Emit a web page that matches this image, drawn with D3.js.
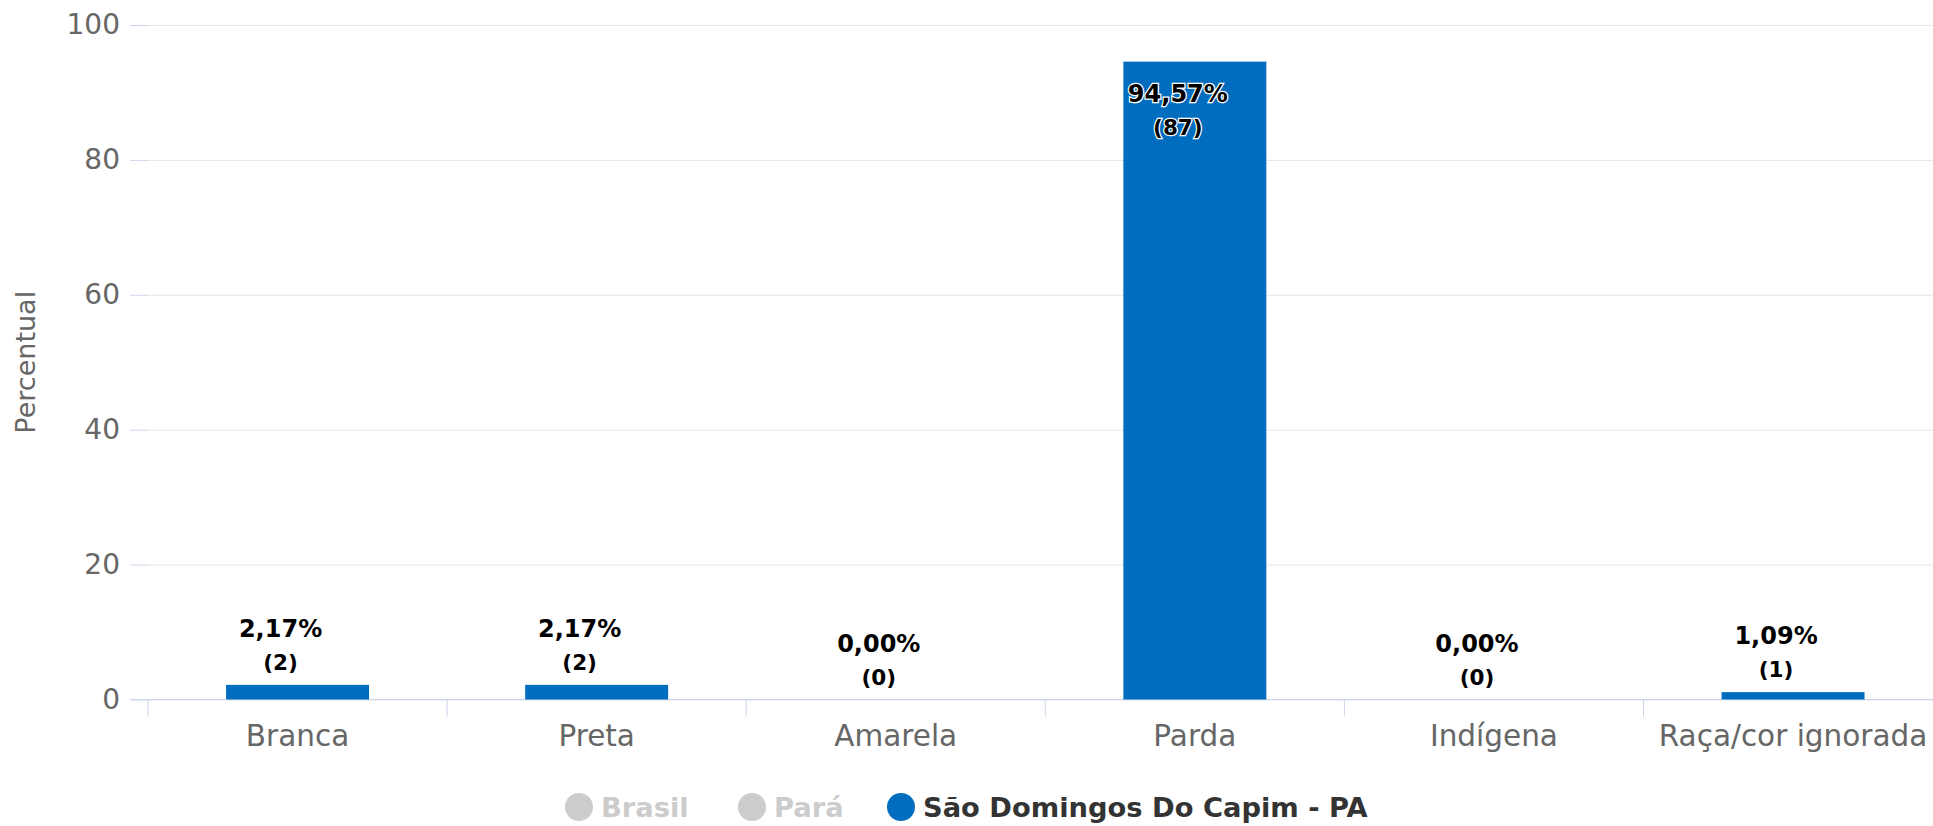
<!DOCTYPE html>
<html>
<head>
<meta charset="utf-8">
<script src="https://cdn.jsdelivr.net/npm/d3@7/dist/d3.min.js"></script>
<style>
  body { margin: 0; background: #fff; }
  svg { display: block; }
</style>
</head>
<body>
<div id="chart"></div>
<script>
  // data
  var categories = ['Branca', 'Preta', 'Amarela', 'Parda', 'Indígena', 'Raça/cor ignorada'];
  var percents = [2.17, 2.17, 0.00, 94.57, 0.00, 1.09];
  var counts = [2, 2, 0, 87, 0, 1];
  var yTicks = [0, 20, 40, 60, 80, 100];
  var legendItems = ['Brasil', 'Pará', 'São Domingos Do Capim - PA'];
  var legendActive = [false, false, true];

  (function () {
    'use strict';

    var width = 1933, height = 826;
    var plotLeft = 148, plotRight = 1942.6, plotTop = 25, plotBottom = 699.5;
    var blue = '#006dbf';

    var svg = d3.select('#chart')
      .append('svg')
      .attr('width', width)
      .attr('height', height);

    var x = d3.scaleBand()
      .domain(categories)
      .range([plotLeft, plotRight])
      .padding(0);

    var y = d3.scaleLinear()
      .domain([0, 100])
      .range([plotBottom, plotTop]);

    // grid lines
    var grid = svg.append('g')
      .attr('transform', 'translate(' + plotLeft + ',0)')
      .call(d3.axisRight(y).tickValues(yTicks).tickSize(width - plotLeft).tickFormat(''));
    grid.select('.domain').remove();
    grid.selectAll('line').attr('stroke', '#e6e6e6');

    // y axis
    var yAxis = svg.append('g')
      .attr('transform', 'translate(' + plotLeft + ',0)')
      .call(d3.axisLeft(y).tickValues(yTicks).tickSize(18).tickPadding(10));
    yAxis.select('.domain').remove();
    yAxis.selectAll('line').attr('stroke', '#ccd6eb');
    yAxis.selectAll('text')
      .attr('fill', '#666')
      .style('font-family', 'DejaVu Sans')
      .style('font-size', '28px');

    svg.append('text')
      .attr('transform', 'translate(35,' + ((plotTop + plotBottom) / 2) + ') rotate(-90)')
      .attr('text-anchor', 'middle')
      .attr('fill', '#666')
      .style('font-family', 'DejaVu Sans')
      .style('font-size', '27px')
      .text('Percentual');

    // x axis
    var xAxis = svg.append('g')
      .attr('transform', 'translate(0,' + plotBottom + ')')
      .call(d3.axisBottom(x).tickSize(0).tickPadding(26));
    xAxis.select('.domain').remove();
    xAxis.selectAll('text')
      .attr('fill', '#666')
      .style('font-family', 'DejaVu Sans')
      .style('font-size', '29.5px');

    svg.append('line')
      .attr('x1', 130).attr('x2', width)
      .attr('y1', plotBottom).attr('y2', plotBottom)
      .attr('stroke', '#ccd6eb');

    svg.append('g').selectAll('line')
      .data(categories)
      .enter().append('line')
      .attr('x1', function (d) { return x(d); })
      .attr('x2', function (d) { return x(d); })
      .attr('y1', plotBottom)
      .attr('y2', plotBottom + 17)
      .attr('stroke', '#ccd6eb');

    // bars
    var barW = x.bandwidth() * 0.478;
    svg.append('g').selectAll('rect')
      .data(percents)
      .enter().append('rect')
      .attr('x', function (d, i) { return x(categories[i]) + x.bandwidth() / 2 - barW / 2; })
      .attr('y', function (d) { return y(d); })
      .attr('width', barW)
      .attr('height', function (d) { return plotBottom - y(d); })
      .attr('fill', blue);

    // data labels (pushed inside the plot when they would overflow the top)
    var labels = svg.append('g').selectAll('g')
      .data(percents)
      .enter().append('g')
      .attr('transform', function (d, i) {
        var cx = x(categories[i]) + x.bandwidth() / 2 - 17;
        var base = Math.max(y(d) - 48, plotTop + 77);
        return 'translate(' + cx + ',' + base + ')';
      });

    labels.append('text')
      .attr('text-anchor', 'middle')
      .style('font-family', 'DejaVu Sans')
      .style('font-weight', 'bold')
      .style('font-size', '24px')
      .attr('fill', '#000')
      .attr('stroke', '#fff')
      .attr('stroke-width', 2.5)
      .attr('paint-order', 'stroke')
      .text(function (d) { return d.toFixed(2).replace('.', ',') + '%'; });

    labels.append('text')
      .attr('text-anchor', 'middle')
      .attr('y', 33)
      .style('font-family', 'DejaVu Sans')
      .style('font-weight', 'bold')
      .style('font-size', '21.5px')
      .attr('fill', '#000')
      .attr('stroke', '#fff')
      .attr('stroke-width', 2.5)
      .attr('paint-order', 'stroke')
      .text(function (d, i) { return '(' + counts[i] + ')'; });

    // legend
    var legendX = [579, 752, 901];
    var legend = svg.append('g').selectAll('g')
      .data(legendItems)
      .enter().append('g')
      .attr('transform', function (d, i) { return 'translate(' + legendX[i] + ',807)'; });

    legend.append('circle')
      .attr('r', 14)
      .attr('fill', function (d, i) { return legendActive[i] ? blue : '#cccccc'; });

    legend.append('text')
      .attr('x', 22)
      .attr('y', 10)
      .style('font-family', 'DejaVu Sans')
      .style('font-weight', 'bold')
      .style('font-size', '27.3px')
      .attr('fill', function (d, i) { return legendActive[i] ? '#333' : '#cccccc'; })
      .text(function (d) { return d; });
  })();
</script>
</body>
</html>
